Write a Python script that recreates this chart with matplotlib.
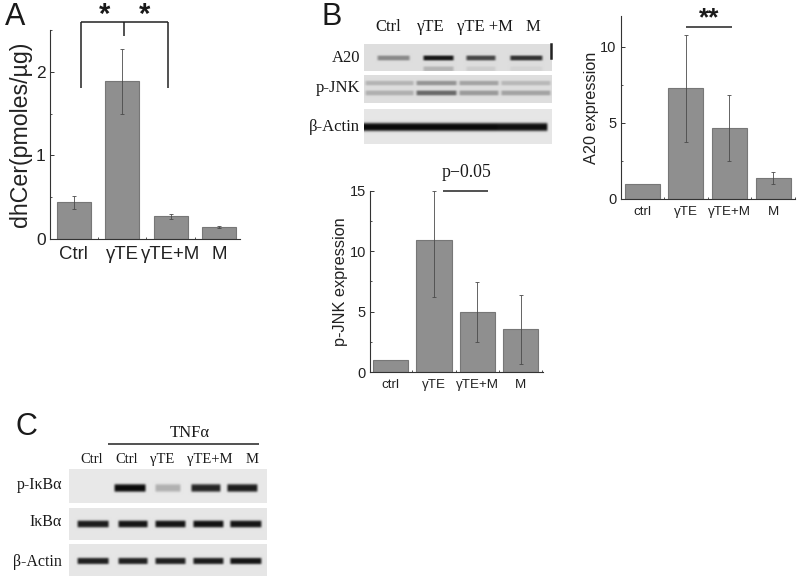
import numpy as np
import matplotlib
matplotlib.use("Agg")
import matplotlib.pyplot as plt
from matplotlib.ticker import MultipleLocator

W, H = 800, 581
SANS = "Liberation Sans"
SERIF = "Liberation Serif"

# panel A
dhcer_labels = ["Ctrl", "γTE", "γTE+M", "M"]
dhcer_values = [0.44, 1.89, 0.27, 0.14]
dhcer_low = [0.36, 1.49, 0.24, 0.13]
dhcer_high = [0.52, 2.27, 0.30, 0.15]

# panel B, right
a20_labels = ["ctrl", "γTE", "γTE+M", "M"]
a20_values = [1.0, 7.25, 4.65, 1.35]
a20_low = [1.0, 3.75, 2.5, 1.0]
a20_high = [1.0, 10.75, 6.8, 1.75]

# panel B, lower
jnk_labels = ["ctrl", "γTE", "γTE+M", "M"]
jnk_values = [1.0, 10.95, 5.0, 3.55]
jnk_low = [1.0, 6.2, 2.5, 0.7]
jnk_high = [1.0, 15.0, 7.45, 6.4]

# blots: band darkness per lane
a20_band = [0.4, 0.95, 0.72, 0.82]
a20_lower_band = [0.0, 0.2, 0.08, 0.05]
jnk_upper_band = [0.2, 0.35, 0.28, 0.18]
jnk_lower_band = [0.22, 0.55, 0.32, 0.28]
actin_b_band = [1.0, 1.0, 1.0, 0.98]
ikba_p_band = [0.0, 1.0, 0.25, 0.88, 0.92]
ikba_band = [0.92, 0.95, 0.95, 0.97, 0.95]
actin_c_band = [0.9, 0.9, 0.9, 0.92, 0.95]


def px_axes(fig, left, right, top, bottom):
    return fig.add_axes([left / W, 1 - bottom / H, (right - left) / W, (bottom - top) / H])


def bar_panel(fig, box, xlim, ylim, labels, values, low, high, ylabel, width,
              major, minor, label_size, tick_size, ylabel_size, labelpad):
    ax = px_axes(fig, *box)
    x = np.arange(1, len(values) + 1)
    ax.bar(x, values, width=width, color="#8f8f8f", edgecolor="#777777", linewidth=0.8, zorder=2)
    for i in range(len(values)):
        if high[i] > low[i]:
            ax.errorbar(x[i], values[i], yerr=[[values[i] - low[i]], [high[i] - values[i]]],
                        color="#4a4a4a", linewidth=0.6, capsize=1.2, capthick=0.6, zorder=3)
    ax.set_xlim(*xlim)
    ax.set_ylim(*ylim)
    ax.patch.set_alpha(0)
    for side in ["top", "right"]:
        ax.spines[side].set_visible(False)
    for side in ["left", "bottom"]:
        ax.spines[side].set_color("#333333")
        ax.spines[side].set_linewidth(0.8)
    ax.set_xticks(x)
    ax.set_xticklabels(labels, fontsize=label_size, family=SANS, color="#222222")
    ax.xaxis.set_minor_locator(MultipleLocator(0.5))
    ax.yaxis.set_major_locator(MultipleLocator(major))
    ax.yaxis.set_minor_locator(MultipleLocator(minor))
    ax.tick_params(axis="both", which="major", direction="in", length=3, width=0.7,
                   color="#333333", zorder=4)
    ax.tick_params(axis="both", which="minor", direction="in", length=1.5, width=0.6, color="#333333")
    ax.tick_params(axis="x", which="major", pad=5)
    ax.tick_params(axis="y", which="major", pad=3, labelsize=tick_size, labelcolor="#222222")
    for t in ax.get_yticklabels():
        t.set_family(SANS)
    ax.set_ylabel(ylabel, fontsize=ylabel_size, family=SANS, color="#222222", labelpad=labelpad)
    return ax


def blot(ov, box, rows, bg=0.9):
    # rows: (y centre, half thickness, lanes as (x0, x1), darkness per lane)
    x0, x1, y0, y1 = box
    xs = np.linspace(x0, x1, (x1 - x0) * 3)
    ys = np.linspace(y0, y1, (y1 - y0) * 3)
    img = np.full((len(ys), len(xs)), bg)
    xx, yy = np.meshgrid(xs, ys)
    for yc, sig, lanes, dark in rows:
        for (a, b), d in zip(lanes, dark):
            env = np.clip((xx - a) / 3, 0, 1) * np.clip((b - xx) / 3, 0, 1)
            prof = np.exp(-(((yy - yc) / sig) ** 4))
            img -= (bg - 0.04) * d * env * prof
    ov.imshow(np.clip(img, 0, 1), extent=(x0, x1, y1, y0), cmap="gray", vmin=0, vmax=1,
              aspect="auto", interpolation="bicubic", zorder=1)


def seg(ov, x0, y0, x1, y1, lw=1.1):
    ov.plot([x0, x1], [y0, y1], color="#222222", linewidth=lw, solid_capstyle="butt", zorder=5)


def txt(ov, x, y, s, size, family=SERIF, ha="center", **kw):
    ov.text(x, y, s, fontsize=size, family=family, ha=ha, va="center", color="#1a1a1a", zorder=6, **kw)


fig = plt.figure(figsize=(W / 100, H / 100), dpi=100, facecolor="white")

bar_panel(fig, (50, 240, 30, 239), (0.515, 4.43), (0, 2.5), dhcer_labels, dhcer_values,
          dhcer_low, dhcer_high, "dhCer(pmoles/µg)", 0.7, 1, 0.5, 13.4, 12.5, 16.7, 3)
bar_panel(fig, (620.7, 795, 16, 199), (0.51, 4.5), (0, 12), a20_labels, a20_values,
          a20_low, a20_high, "A20 expression", 0.8, 5, 2.5, 9.6, 10.5, 11.7, 1)
bar_panel(fig, (370, 543, 190.7, 372.3), (0.52, 4.52), (0, 15), jnk_labels, jnk_values,
          jnk_low, jnk_high, "p-JNK expression", 0.82, 5, 2.5, 9.6, 10.5, 11.7, 1)

ov = fig.add_axes([0, 0, 1, 1], zorder=10)
ov.patch.set_alpha(0)
ov.axis("off")

# western blots, panel B
b_lanes = [(376, 411), (422, 455), (465, 497), (509, 544)]
b_wide = [(364, 415), (415, 458), (458, 500), (500, 552)]
blot(ov, (364, 552, 44, 71), [(58, 2.6, b_lanes, a20_band),
                              (69, 2.6, b_lanes, a20_lower_band)], bg=0.87)
blot(ov, (364, 552, 75, 103), [(83, 2.4, b_wide, jnk_upper_band),
                               (93, 2.6, b_wide, jnk_lower_band)], bg=0.87)
blot(ov, (364, 552, 109, 144), [(127, 4.2, [(361, 410), (407, 454), (451, 499), (496, 549)], actin_b_band)], bg=0.9)
ov.plot([551, 551], [44, 58], color="#222222", linewidth=1.8, zorder=3)

# western blots, panel C
c_lanes_p = [(76, 110), (113, 147), (154, 182), (190, 222), (226, 259)]
c_lanes = [(76, 110), (117, 149), (154, 187), (192, 225), (229, 263)]
blot(ov, (69, 267, 469, 503), [(488, 4.0, c_lanes_p, ikba_p_band)], bg=0.91)
blot(ov, (69, 267, 508, 540), [(524, 3.6, c_lanes, ikba_band)], bg=0.9)
blot(ov, (69, 267, 544, 576), [(561, 3.3, c_lanes, actin_c_band)], bg=0.9)

# panel letters
txt(ov, 15, 17, "A", 22, family=SANS)
txt(ov, 332, 17, "B", 22, family=SANS)
txt(ov, 26, 427, "C", 22, family=SANS)

# panel A significance bracket
seg(ov, 81, 21.7, 168, 21.7)
seg(ov, 81, 21.7, 81, 88)
seg(ov, 168, 21.7, 168, 88)
seg(ov, 124, 21.7, 124, 36)
txt(ov, 104.5, 15, "*", 21, family=SANS, fontweight="bold")
txt(ov, 145, 15, "*", 21, family=SANS, fontweight="bold")

# panel B blot labels
for x, s in zip([388, 431, 485, 533], ["Ctrl", "γTE", "γTE +M", "M"]):
    txt(ov, x, 27, s, 12)
for y, s in zip([58, 88, 127], ["A20", "p-JNK", "β-Actin"]):
    txt(ov, 360, y, s, 12, ha="right")

# panel B significance marks
seg(ov, 686, 27, 732, 27)
txt(ov, 709, 18, "**", 19, family=SANS, fontweight="bold")
seg(ov, 443, 191, 488, 191)
txt(ov, 467, 172.5, "p−0.05", 12.8)

# panel C labels
seg(ov, 108, 443.7, 259, 443.7)
txt(ov, 190, 433, "TNFα", 12)
for x, s in zip([92, 127, 162, 210, 252], ["Ctrl", "Ctrl", "γTE", "γTE+M", "M"]):
    txt(ov, x, 459.5, s, 10.5)
for y, s in zip([485, 522, 562], ["p-IκBα", "IκBα", "β-Actin"]):
    txt(ov, 62, y, s, 11.5, ha="right")

ov.set_xlim(0, W)
ov.set_ylim(H, 0)

fig.savefig("out.png", dpi=100)
